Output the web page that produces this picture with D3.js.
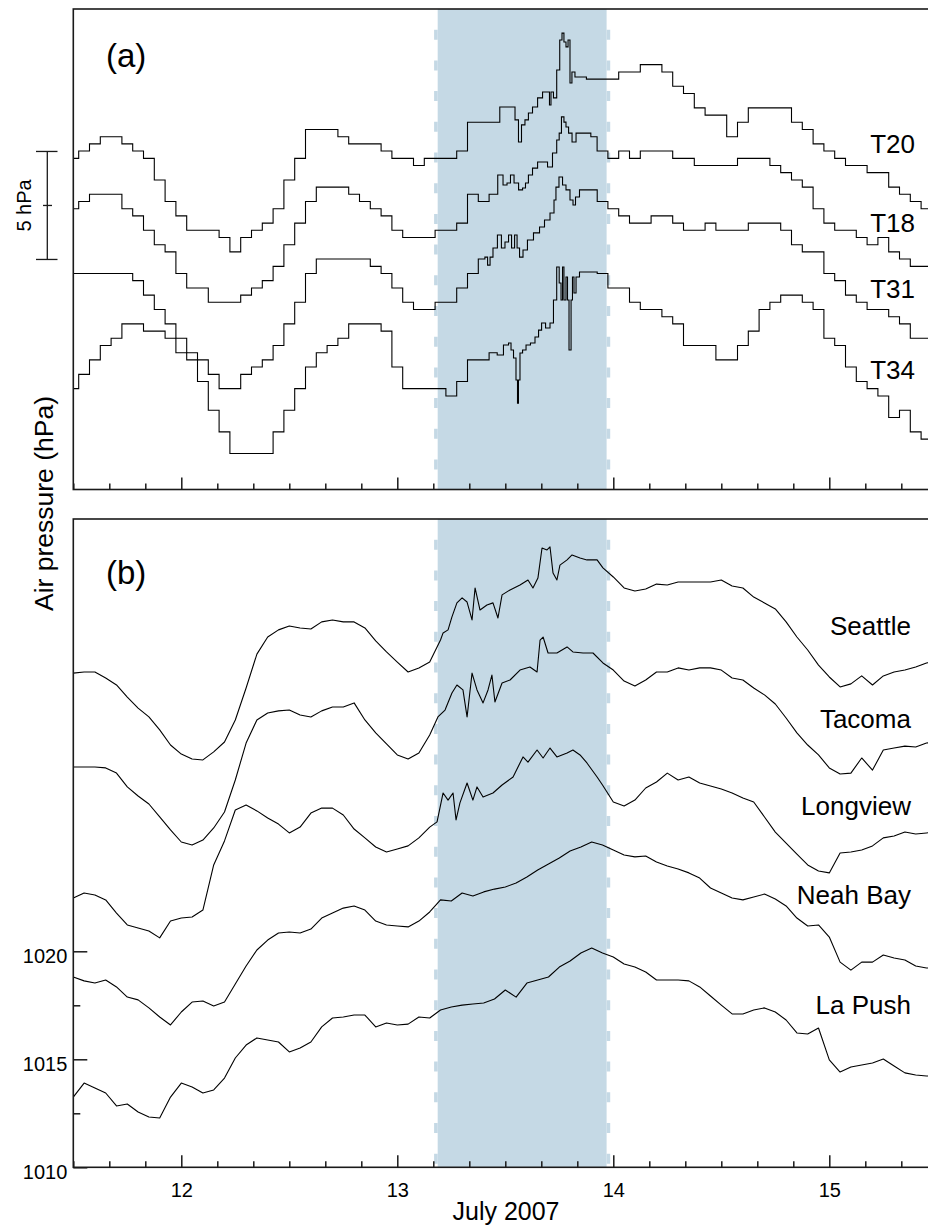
<!DOCTYPE html>
<html><head><meta charset="utf-8">
<script src="https://cdn.jsdelivr.net/npm/d3@7"></script>
<style>
html,body{margin:0;padding:0;background:#fff;}
svg{display:block;font-family:"Liberation Sans",Arial,Helvetica,sans-serif;}
</style></head><body>
<svg id="chart" width="928" height="1228"></svg>
<script>
// ---------- DATA ----------
// regular sampling: every 0.05 day (1.2 h) from 11.5 to 15.5 July 2007
const startDay = 11.5, stepDay = 0.05, nSamples = 81;
const times = d3.range(nSamples).map(i => +(startDay + i * stepDay).toFixed(2));

// panel (a): tide-gauge air pressure, relative hPa (offset for display)
const t20 = [15.33,15.67,16.00,16.33,16.33,16.00,15.67,15.33,14.33,13.33,
 12.67,12.00,12.00,12.00,11.67,11.00,11.67,12.00,12.33,13.00,
 14.33,15.33,16.67,16.67,16.67,16.33,16.00,16.00,16.00,15.67,
 15.33,15.33,15.00,15.33,15.33,15.33,15.67,17.00,17.00,17.00,
 17.67,16.67,17.33,17.67,18.33,21.00,19.00,19.00,19.00,19.00,
 19.00,19.33,19.33,19.67,19.67,19.33,18.67,18.33,17.67,17.33,
 17.33,16.33,17.00,17.67,17.67,17.67,17.67,17.00,16.67,16.00,
 15.67,15.33,15.00,15.00,14.67,14.67,14.00,13.67,13.33,13.00,13.00];
const t18 = [13.00,13.33,13.67,13.67,13.67,13.00,12.67,12.00,11.33,11.00,
 10.00,9.33,9.33,8.67,8.67,8.67,9.00,9.33,9.67,10.33,
 11.33,12.33,13.33,14.00,14.00,14.00,13.67,13.33,13.00,12.67,
 12.00,11.67,11.67,11.67,12.00,12.00,12.33,13.67,13.33,13.67,
 14.33,14.00,14.33,15.00,15.00,17.00,16.33,16.33,16.33,15.67,
 15.33,15.67,15.33,15.67,15.67,15.67,15.33,15.33,15.00,15.00,
 15.00,15.00,15.33,15.33,15.33,15.00,14.67,14.33,14.00,13.00,
 12.33,12.00,12.00,11.67,11.33,11.67,11.00,10.67,10.33,10.33,10.33];
const t31 = [10.00,10.00,10.00,10.00,10.00,10.00,9.67,9.00,8.33,7.67,
 7.00,6.33,6.00,5.33,4.67,4.67,5.33,5.67,6.00,6.67,
 7.67,8.67,10.00,10.67,10.67,10.67,10.67,10.67,10.33,10.00,
 9.33,8.67,8.33,8.33,8.67,8.67,9.33,10.00,10.67,11.00,
 11.33,11.67,11.00,12.00,12.33,14.33,13.67,14.00,13.67,13.33,
 13.00,12.67,12.33,12.33,12.67,12.67,12.33,12.00,12.00,12.33,
 12.00,12.00,12.00,12.33,12.33,12.33,12.00,11.33,11.00,11.00,
 10.00,9.67,9.00,8.67,8.33,8.33,8.00,7.67,7.00,7.00,7.00];
const t34 = [4.67,5.33,6.00,6.67,7.00,7.67,7.67,7.33,7.33,7.00,
 6.33,6.00,5.00,3.67,2.67,1.67,1.67,1.67,1.67,2.67,
 3.67,4.67,5.67,6.33,6.67,7.00,7.67,7.67,7.67,7.33,
 5.67,4.67,4.67,4.67,4.67,4.33,5.00,6.00,6.00,6.33,
 6.33,4.00,6.67,7.00,7.67,9.67,7.33,10.00,10.00,10.00,
 9.33,9.33,8.67,8.33,8.33,8.00,7.67,6.67,6.67,6.67,
 6.00,6.00,6.67,7.33,8.33,8.67,9.00,9.00,8.67,8.33,
 7.00,6.67,5.67,5.00,4.67,4.33,3.33,3.67,2.67,2.33,2.33];

// panel (a): denser readings during the event (times in days, values relative hPa)
const t20DetailT = [13.499,13.536,13.554,13.568,13.582,13.600,13.614,13.638,13.661,13.684,13.702,13.707,13.716,13.730,13.746,13.758,13.767,13.776,13.786,13.795,13.804,13.813,13.832,13.851];
const t20DetailV = [17.71,17.71,17.11,16.09,16.88,17.11,17.43,17.71,18.13,18.40,18.40,17.80,18.40,18.13,19.42,20.81,21.13,20.72,20.49,20.81,18.82,19.33,19.10,19.10];
const t18DetailT = [13.480,13.499,13.517,13.531,13.550,13.573,13.587,13.600,13.614,13.638,13.661,13.684,13.707,13.730,13.746,13.753,13.767,13.776,13.786,13.800,13.818,13.837,13.892];
const t18DetailV = [14.56,14.10,14.19,14.56,14.19,13.87,13.96,14.19,14.56,14.88,15.16,15.16,14.93,15.58,16.18,16.50,17.25,17.01,16.78,16.50,16.09,16.50,16.50];
const t31DetailT = [13.411,13.425,13.434,13.452,13.475,13.489,13.508,13.522,13.536,13.550,13.559,13.573,13.591,13.614,13.647,13.670,13.693,13.721,13.730,13.739,13.758,13.772,13.790,13.809,13.818,13.832,13.855,13.901];
const t31DetailV = [10.76,10.39,10.76,11.18,11.78,11.18,11.46,11.78,11.18,11.78,11.18,10.76,11.09,11.55,11.88,12.15,12.48,12.80,13.40,14.00,14.47,14.10,13.87,13.40,13.17,13.54,13.87,13.87];
const t34DetailT = [13.475,13.508,13.522,13.531,13.545,13.554,13.559,13.563,13.573,13.587,13.605,13.628,13.647,13.661,13.675,13.698,13.716,13.730,13.746,13.753,13.763,13.767,13.776,13.786,13.790,13.800,13.809,13.813,13.823,13.832,13.855,13.901];
const t34DetailV = [6.23,6.69,6.78,6.46,6.09,5.07,4.00,5.07,6.32,6.46,6.69,6.78,7.06,7.38,7.71,7.48,7.71,8.77,10.30,9.56,8.77,10.30,8.77,9.84,8.77,6.46,8.77,9.84,9.10,9.84,10.07,10.07];

// panel (b): station air pressure, hPa (offset for display)
const seattle = [1032.88,1032.93,1032.93,1032.65,1032.33,1031.77,1031.26,1030.85,1030.25,1029.55,
 1029.13,1028.90,1028.86,1029.23,1029.69,1030.71,1032.19,1033.76,1034.55,1034.88,
 1035.06,1034.97,1034.92,1035.25,1035.34,1035.25,1035.25,1034.97,1034.37,1033.86,
 1033.39,1032.93,1033.12,1033.39,1034.41,1035.25,1036.36,1036.03,1035.94,1035.99,
 1036.59,1036.87,1037.14,1037.28,1038.63,1037.56,1038.30,1038.21,1038.12,1037.79,
 1037.33,1036.82,1036.68,1036.77,1037.00,1036.96,1037.10,1037.10,1037.10,1037.10,
 1037.19,1036.91,1036.82,1036.40,1036.13,1035.85,1035.25,1034.55,1033.95,1033.25,
 1032.70,1032.24,1032.38,1032.75,1032.33,1032.75,1032.93,1033.02,1033.16,1033.35,1033.44];
const tacoma = [1028.53,1028.53,1028.53,1028.49,1028.25,1027.61,1027.19,1026.82,1026.22,1025.62,
 1025.06,1024.92,1025.15,1025.71,1026.45,1027.93,1029.64,1030.71,1031.03,1031.13,
 1031.17,1030.94,1030.85,1031.13,1031.31,1031.31,1031.50,1030.71,1030.11,1029.60,
 1029.09,1028.90,1029.18,1030.01,1030.94,1031.87,1032.10,1032.79,1031.50,1031.73,
 1032.47,1032.88,1033.12,1034.18,1033.86,1033.86,1033.95,1033.81,1033.81,1033.35,
 1033.02,1032.51,1032.28,1032.56,1032.93,1032.93,1033.12,1033.02,1033.12,1033.12,
 1033.02,1032.65,1032.56,1032.19,1031.87,1031.45,1030.80,1030.11,1029.55,1029.09,
 1028.49,1028.21,1028.25,1028.95,1028.39,1029.32,1029.41,1029.50,1029.46,1029.64,1029.69];
const longview = [1022.47,1022.70,1022.61,1022.38,1021.77,1021.22,1021.08,1020.94,1020.62,1021.40,
 1021.54,1021.59,1021.91,1024.00,1025.11,1026.54,1026.77,1026.50,1026.17,1025.89,
 1025.48,1025.75,1026.40,1026.63,1026.63,1026.31,1025.66,1025.25,1024.83,1024.60,
 1024.74,1024.88,1025.25,1025.75,1026.77,1027.14,1027.00,1027.24,1027.14,1027.38,
 1027.75,1028.16,1028.86,1029.23,1029.32,1029.09,1029.23,1029.09,1028.39,1027.70,
 1026.91,1026.73,1027.00,1027.56,1027.84,1028.25,1027.93,1028.07,1027.79,1027.65,
 1027.51,1027.33,1027.10,1026.91,1026.22,1025.52,1025.01,1024.50,1024.00,1023.72,
 1023.63,1024.55,1024.60,1024.69,1024.88,1025.25,1025.34,1025.52,1025.43,1025.48,1025.52];
const neahBay = [1018.81,1018.63,1018.53,1018.67,1018.35,1017.88,1017.75,1017.38,1016.96,1016.59,
 1017.19,1017.65,1017.70,1017.47,1017.65,1018.49,1019.32,1020.06,1020.52,1020.85,
 1020.89,1020.85,1021.03,1021.54,1021.77,1022.00,1022.10,1021.91,1021.40,1021.22,
 1021.17,1021.13,1021.40,1021.82,1022.38,1022.33,1022.70,1022.56,1022.75,1022.88,
 1022.98,1023.16,1023.44,1023.76,1024.04,1024.32,1024.64,1024.83,1025.06,1024.92,
 1024.69,1024.46,1024.37,1024.41,1024.13,1023.95,1023.81,1023.63,1023.39,1022.93,
 1022.70,1022.47,1022.38,1022.51,1022.65,1022.42,1022.10,1021.54,1021.17,1021.22,
 1020.66,1019.50,1019.13,1019.50,1019.50,1019.83,1019.69,1019.60,1019.32,1019.23,1019.23];
const laPush = [1013.25,1013.90,1013.67,1013.44,1012.84,1012.93,1012.56,1012.33,1012.28,1013.25,
 1013.90,1013.72,1013.44,1013.58,1014.13,1015.06,1015.66,1015.99,1015.89,1015.80,
 1015.34,1015.52,1015.80,1016.50,1016.91,1016.96,1017.05,1017.05,1016.50,1016.68,
 1016.59,1016.63,1016.96,1016.91,1017.28,1017.42,1017.51,1017.56,1017.61,1017.79,
 1018.21,1017.88,1018.53,1018.67,1018.81,1019.27,1019.55,1019.92,1020.15,1019.92,
 1019.74,1019.41,1019.27,1019.04,1018.67,1018.67,1018.67,1018.63,1018.35,1017.93,
 1017.51,1017.10,1017.10,1017.28,1017.38,1017.19,1016.82,1016.22,1016.17,1016.45,
 1014.97,1014.41,1014.64,1014.74,1014.83,1015.01,1014.69,1014.37,1014.27,1014.23,1014.23];

// panel (b): denser readings during the event
const seattleDetailT = [13.212,13.235,13.253,13.276,13.300,13.323,13.346,13.360,13.383,13.415,13.443,13.466,13.485,13.522,13.568,13.605,13.628,13.651,13.670,13.693,13.707,13.721,13.739,13.753,13.786,13.809,13.846,13.878,13.925,13.952];
const seattleDetailV = [1034.74,1034.88,1035.48,1036.13,1036.36,1036.17,1035.34,1036.82,1035.80,1036.03,1036.13,1035.43,1036.50,1036.73,1036.96,1037.19,1036.82,1037.28,1038.67,1038.58,1038.72,1037.51,1037.19,1037.88,1038.12,1038.35,1038.21,1038.12,1038.12,1037.75];
const tacomaDetailT = [13.188,13.221,13.253,13.276,13.304,13.323,13.346,13.369,13.397,13.420,13.438,13.452,13.485,13.522,13.568,13.614,13.647,13.661,13.675,13.698,13.739,13.786,13.813,13.860,13.906,13.952];
const tacomaDetailV = [1030.85,1031.17,1031.96,1032.33,1032.10,1030.85,1032.88,1032.10,1031.50,1032.10,1032.79,1031.54,1032.42,1032.56,1033.02,1033.16,1032.93,1034.41,1034.55,1033.81,1033.81,1034.09,1033.86,1033.81,1033.81,1033.35];
const longviewDetailT = [13.184,13.212,13.235,13.258,13.272,13.290,13.323,13.350,13.369,13.397,13.443,13.485,13.536,13.582,13.605,13.647,13.675,13.707,13.739,13.786,13.813,13.846,13.878,13.925];
const longviewDetailV = [1025.99,1027.33,1027.00,1027.33,1026.08,1026.87,1027.79,1027.00,1027.61,1027.14,1027.33,1027.70,1028.07,1029.00,1028.76,1029.32,1028.95,1029.41,1029.00,1029.18,1029.32,1029.09,1028.72,1028.07];

const namesA = ["T20", "T18", "T31", "T34"];
const valuesA = [t20, t18, t31, t34];
const detailA = [[t20DetailT, t20DetailV], [t18DetailT, t18DetailV], [t31DetailT, t31DetailV], [t34DetailT, t34DetailV]];
const namesB = ["Seattle", "Tacoma", "Longview", "Neah Bay", "La Push"];
const valuesB = [seattle, tacoma, longview, neahBay, laPush];
const detailB = [[seattleDetailT, seattleDetailV], [tacomaDetailT, tacomaDetailV], [longviewDetailT, longviewDetailV], null, null];

const dayTicks = [12, 13, 14, 15];
const pressureTicks = [1010, 1015, 1020];
const pressureMinorTicks = [1012.5, 1017.5];
const eventWindow = [13.187, 13.969];
const scaleBarRange = [10.65, 15.65]; // 5 hPa
const scaleBarLabel = "5 hPa";

// ---------- LAYOUT ----------
const left = 73.3, right = 937.3;
const panelA = {top: 9, bottom: 489.5};
const panelB = {top: 519, bottom: 1167.3};
const pxPerHpa = 21.6;
const labelPosA = [15.58, 11.92, 8.87, 5.12];
const labelPosB = [1034.64, 1030.34, 1026.31, 1022.19, 1017.10];
const labelDayA = 15.397, labelDayB = 15.378;

const svg = d3.select("#chart");
const x = d3.scaleLinear().domain([11.5, 15.5]).range([left, right]);
const yA = d3.scaleLinear().domain([0, (panelA.bottom - panelA.top) / pxPerHpa]).range([panelA.bottom, panelA.top]);
const yB = d3.scaleLinear().domain([1010, 1010 + (panelB.bottom - panelB.top) / pxPerHpa]).range([panelB.bottom, panelB.top]);

function mergeSeries(values, detail) {
  let pts = times.map((t, i) => [t, values[i]]);
  if (detail) {
    const [dt, dv] = detail;
    const t0 = dt[0], t1 = dt[dt.length - 1];
    pts = pts.filter(p => p[0] < t0 || p[0] > t1).concat(dt.map((t, i) => [t, dv[i]]));
    pts.sort((a, b) => a[0] - b[0]);
  }
  return pts;
}

const defs = svg.append("defs");
defs.append("clipPath").attr("id", "clipA").append("rect")
  .attr("x", left).attr("y", panelA.top).attr("width", right - left).attr("height", panelA.bottom - panelA.top);
defs.append("clipPath").attr("id", "clipB").append("rect")
  .attr("x", left).attr("y", panelB.top).attr("width", right - left).attr("height", panelB.bottom - panelB.top);

const shadeColor = "#c5d9e5";
function shade(p) {
  const g = svg.append("g");
  g.append("rect").attr("x", x(eventWindow[0])).attr("y", p.top)
    .attr("width", x(eventWindow[1]) - x(eventWindow[0])).attr("height", p.bottom - p.top)
    .attr("fill", shadeColor);
  [x(eventWindow[0]) - 1.8, x(eventWindow[1]) + 1.8].forEach(xx => {
    g.append("line").attr("x1", xx).attr("x2", xx).attr("y1", p.top).attr("y2", p.bottom)
      .attr("stroke", shadeColor).attr("stroke-width", 3.6)
      .attr("stroke-dasharray", "10,20.7").attr("stroke-dashoffset", 10);
  });
}
shade(panelA); shade(panelB);

// traces
const lineA = d3.line().x(d => x(d[0])).y(d => yA(d[1])).curve(d3.curveStep);
const lineB = d3.line().x(d => x(d[0])).y(d => yB(d[1]));
const gA = svg.append("g").attr("clip-path", "url(#clipA)");
valuesA.forEach((v, i) => gA.append("path").attr("d", lineA(mergeSeries(v, detailA[i]))).attr("fill", "none")
  .attr("stroke", "#000").attr("stroke-width", 1.1));
const gB = svg.append("g").attr("clip-path", "url(#clipB)");
valuesB.forEach((v, i) => gB.append("path").attr("d", lineB(mergeSeries(v, detailB[i]))).attr("fill", "none")
  .attr("stroke", "#000").attr("stroke-width", 1.1).attr("stroke-linejoin", "round"));

// frames
[panelA, panelB].forEach(p => svg.append("rect").attr("x", left).attr("y", p.top)
  .attr("width", right - left).attr("height", p.bottom - p.top)
  .attr("fill", "none").attr("stroke", "#1a1a1a").attr("stroke-width", 1.6));

// x ticks (both panels)
const minorDays = d3.range(0, 25).map(i => 11.5 + i / 6).filter(d => Math.abs(d - Math.round(d)) > 1e-6);
function xTicks(p, withLabels) {
  const gMinor = svg.append("g").attr("transform", `translate(0,${p.bottom})`)
    .call(d3.axisBottom(x).tickValues(minorDays).tickSize(-6).tickFormat(""));
  const gMajor = svg.append("g").attr("transform", `translate(0,${p.bottom})`)
    .call(d3.axisBottom(x).tickValues(dayTicks).tickSize(-12).tickPadding(15.5)
      .tickFormat(withLabels ? d3.format("d") : ""));
  [gMinor, gMajor].forEach(g => {
    g.select(".domain").remove();
    g.selectAll("line").attr("stroke", "#1a1a1a").attr("stroke-width", 1.5);
    g.selectAll("text").attr("font-size", 20).attr("fill", "#000")
      .attr("font-family", '"Liberation Sans",Arial,sans-serif');
  });
}
xTicks(panelA, false);
xTicks(panelB, true);

// y ticks panel b
const gyMinor = svg.append("g").attr("transform", `translate(${left},0)`)
  .call(d3.axisLeft(yB).tickValues(pressureMinorTicks).tickSize(-7).tickFormat(""));
const gyMajor = svg.append("g").attr("transform", `translate(${left},0)`)
  .call(d3.axisLeft(yB).tickValues(pressureTicks).tickSize(-14).tickPadding(6).tickFormat(d3.format("d")));
[gyMinor, gyMajor].forEach(g => {
  g.select(".domain").remove();
  g.selectAll("line").attr("stroke", "#1a1a1a").attr("stroke-width", 1.5);
  g.selectAll("text").attr("font-size", 20).attr("fill", "#000").attr("dy", "0.56em")
    .attr("font-family", '"Liberation Sans",Arial,sans-serif');
});

// series labels
namesA.forEach((n, i) => svg.append("text").attr("x", x(labelDayA)).attr("y", yA(labelPosA[i]))
  .attr("text-anchor", "end").attr("font-size", 26).text(n));
namesB.forEach((n, i) => svg.append("text").attr("x", x(labelDayB)).attr("y", yB(labelPosB[i]))
  .attr("text-anchor", "end").attr("font-size", 26).text(n));

// panel letters
svg.append("text").attr("x", 106).attr("y", 67).attr("font-size", 33).text("(a)");
svg.append("text").attr("x", 106).attr("y", 584).attr("font-size", 33).text("(b)");

// scale bar in panel (a)
const sb = svg.append("g").attr("stroke", "#1a1a1a").attr("stroke-width", 1.3);
sb.append("line").attr("x1", 47.3).attr("x2", 47.3).attr("y1", yA(scaleBarRange[0])).attr("y2", yA(scaleBarRange[1]));
scaleBarRange.forEach(v => sb.append("line").attr("x1", 36).attr("x2", 57.5).attr("y1", yA(v)).attr("y2", yA(v)));
const mid = (scaleBarRange[0] + scaleBarRange[1]) / 2;
sb.append("line").attr("x1", 43).attr("x2", 52).attr("y1", yA(mid)).attr("y2", yA(mid));
svg.append("text").attr("transform", `translate(31,${yA(mid)}) rotate(-90)`)
  .attr("text-anchor", "middle").attr("font-size", 20).text(scaleBarLabel);

// axis titles
svg.append("text").attr("transform", "translate(53,503.5) rotate(-90)")
  .attr("text-anchor", "middle").attr("font-size", 26.5).text("Air pressure (hPa)");
svg.append("text").attr("x", 506).attr("y", 1220).attr("text-anchor", "middle")
  .attr("font-size", 25).text("July 2007");
</script>
</body></html>
